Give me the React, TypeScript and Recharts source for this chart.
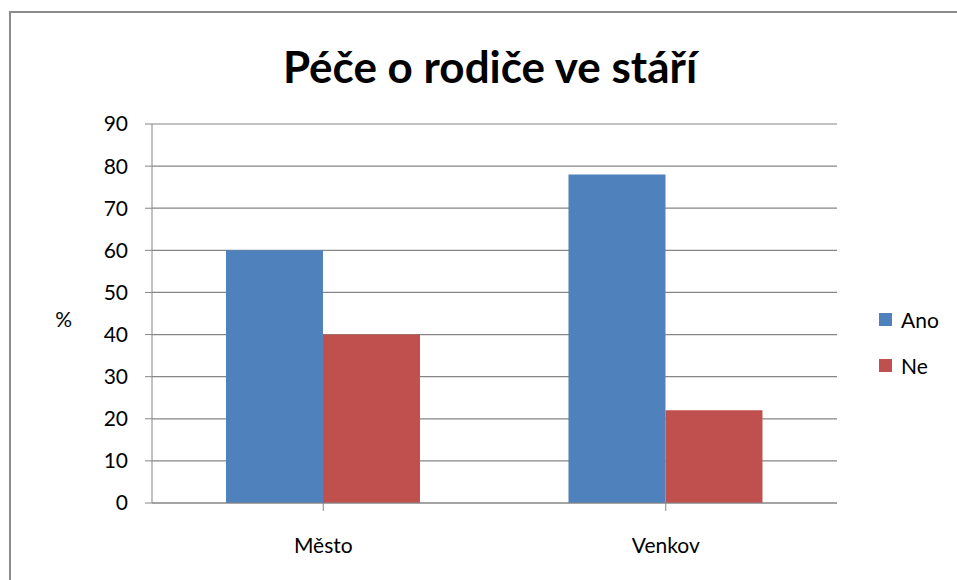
import React from 'react';
import { BarChart, Bar, XAxis, YAxis, CartesianGrid } from 'recharts';

const categories = ['Město', 'Venkov'];
const ano = [60, 78];
const ne = [40, 22];
const yTicks = [0, 10, 20, 30, 40, 50, 60, 70, 80, 90];

const series = [
  { key: 'Ano', color: '#4F81BD' },
  { key: 'Ne', color: '#C0504D' },
];

const data = categories.map((name, i) => ({ name, Ano: ano[i], Ne: ne[i] }));

const FONT = 'Lato, "Open Sans", sans-serif';
const GRID = '#868686';

export default function App() {
  return (
    <div style={{ position: 'fixed', left: 0, top: 0, width: 957, height: 580, overflow: 'hidden', background: '#fff' }}>
      <div style={{ position: 'absolute', left: 9, top: 11, width: 1000, height: 700, border: '2px solid #8c8c8c' }} />
      <div
        style={{
          position: 'absolute', left: 0, width: 980, top: 40, textAlign: 'center',
          fontFamily: FONT, fontWeight: 700, fontSize: 44, color: '#000',
        }}
      >
        Péče o rodiče ve stáří
      </div>
      <div style={{ position: 'absolute', left: 0, top: 0 }}>
        <BarChart
          width={957}
          height={580}
          data={data}
          margin={{ top: 124, right: 120, bottom: 37, left: 92 }}
          barCategoryGap="21.6%"
          barGap={0}
        >
          <CartesianGrid vertical={false} stroke={GRID} strokeWidth={1.2} />
          <XAxis
            dataKey="name"
            height={40}
            axisLine={{ stroke: GRID }}
            tickLine={{ stroke: GRID }}
            tickSize={8}
            tickMargin={27}
            tick={{ fill: '#000', fontSize: 21, fontFamily: FONT }}
            interval={0}
          />
          <YAxis
            width={60}
            domain={[0, 90]}
            ticks={yTicks}
            interval={0}
            axisLine={{ stroke: GRID }}
            tickLine={{ stroke: GRID }}
            tickSize={7}
            tickMargin={17}
            tick={{ fill: '#000', fontSize: 21, fontFamily: FONT }}
            label={{ value: '%', position: 'left', offset: 20, dy: 6, fill: '#000', fontSize: 21, fontFamily: FONT }}
          />
          {series.map((s) => (
            <Bar key={s.key} dataKey={s.key} fill={s.color} isAnimationActive={false} />
          ))}
        </BarChart>
      </div>
      <div style={{ position: 'absolute', left: 879, top: 296, fontFamily: FONT, fontSize: 21, color: '#000' }}>
        {series.map((s) => (
          <div key={s.key} style={{ display: 'flex', alignItems: 'center', height: 46 }}>
            <span style={{ width: 13, height: 13, background: s.color, marginRight: 9, display: 'inline-block' }} />
            <span>{s.key}</span>
          </div>
        ))}
      </div>
    </div>
  );
}
